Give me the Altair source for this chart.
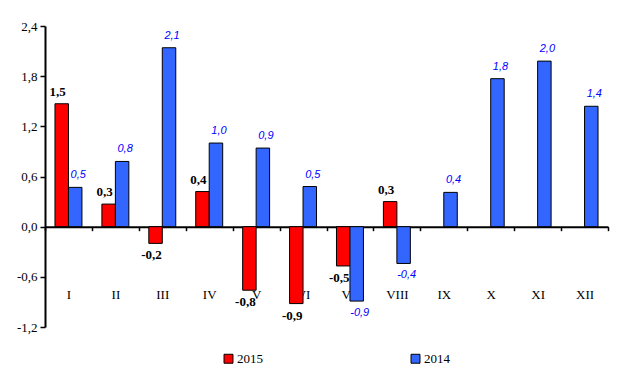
import altair as alt
import pandas as pd

months = ["I", "II", "III", "IV", "V", "VI", "VII", "VIII", "IX", "X", "XI", "XII"]
series_names = ["2015", "2014"]
v2015 = [1.47, 0.27, -0.20, 0.42, -0.76, -0.92, -0.47, 0.30, None, None, None, None]
v2014 = [0.47, 0.78, 2.14, 1.00, 0.94, 0.48, -0.89, -0.44, 0.41, 1.77, 1.98, 1.44]
y_ticks = [-1.2, -0.6, 0.0, 0.6, 1.2, 1.8, 2.4]
colors = ["#FF0000", "#3366FF"]

rows = []
for m, a, b in zip(months, v2015, v2014):
    if a is not None:
        rows.append({"month": m, "series": "2015", "value": a})
    if b is not None:
        rows.append({"month": m, "series": "2014", "value": b})
df = pd.DataFrame(rows)

W, H = 563, 301
ymin, ymax = -1.2, 2.4
zero_offset = -H * (0 - ymin) / (ymax - ymin)

serif = "Liberation Serif"
fmt = "(datum.value < -0.0001 ? '-' : '') + replace(format(abs(datum.value), '.1f'), '.', ',')"

x_enc = alt.X(
    "month:N", sort=months,
    scale=alt.Scale(paddingInner=0, paddingOuter=0),
    axis=alt.Axis(
        title=None, orient="bottom", offset=zero_offset, tickBand="extent",
        domainColor="black", domainWidth=2, tickColor="black", tickWidth=1.5,
        tickSize=4, labelPadding=58, labelFont=serif, labelFontSize=13,
        labelColor="black", labelAngle=0,
    ),
)
xoff_enc = alt.XOffset("series:N", sort=series_names,
                       scale=alt.Scale(paddingInner=0, paddingOuter=0.74))
y_enc = alt.Y(
    "value:Q",
    scale=alt.Scale(domain=[ymin, ymax], nice=False, zero=False),
    axis=alt.Axis(
        title=None, values=y_ticks, grid=False, domainColor="black", domainWidth=2,
        tickColor="black", tickWidth=1.5, tickSize=5, labelFont=serif,
        labelFontSize=13, labelColor="black", labelPadding=3,
        labelExpr=fmt,
    ),
)

base = alt.Chart(df).transform_calculate(label=fmt)

bars = base.mark_bar(stroke="black", strokeWidth=1).encode(
    x=x_enc, xOffset=xoff_enc, y=y_enc,
    color=alt.Color(
        "series:N", sort=series_names,
        scale=alt.Scale(domain=series_names, range=colors),
        legend=alt.Legend(
            title=None, orient="none", legendX=177, legendY=326,
            direction="horizontal", symbolType="square", symbolSize=80,
            symbolStrokeColor="black", symbolStrokeWidth=1,
            labelFont=serif, labelFontSize=13, labelColor="black",
            columnPadding=146, labelOffset=2,
        ),
    ),
)


def labels(series, positive, **style):
    cond = "datum.value >= 0" if positive else "datum.value < 0"
    return base.transform_filter(
        f"datum.series == '{series}' && {cond}"
    ).mark_text(baseline="middle", dy=-12 if positive else 12, **style).encode(
        x=x_enc, xOffset=xoff_enc, y=y_enc, text="label:N"
    )


s2015 = dict(font=serif, fontSize=13, fontWeight="bold", color="black", dx=-4)
s2014 = dict(font="Liberation Sans", fontSize=11, fontStyle="italic", color="#0000FF", dx=3)

chart = alt.layer(
    bars,
    labels("2015", True, **s2015),
    labels("2015", False, **s2015),
    labels("2014", True, **s2014),
    labels("2014", False, **s2014),
).properties(
    width=W, height=H,
    autosize=alt.AutoSizeParams(type="none"),
    padding={"left": 37, "top": 18, "right": 7, "bottom": 45},
).configure_view(stroke=None)

chart.save("out.html", embed_options={"renderer": "svg", "actions": False})
